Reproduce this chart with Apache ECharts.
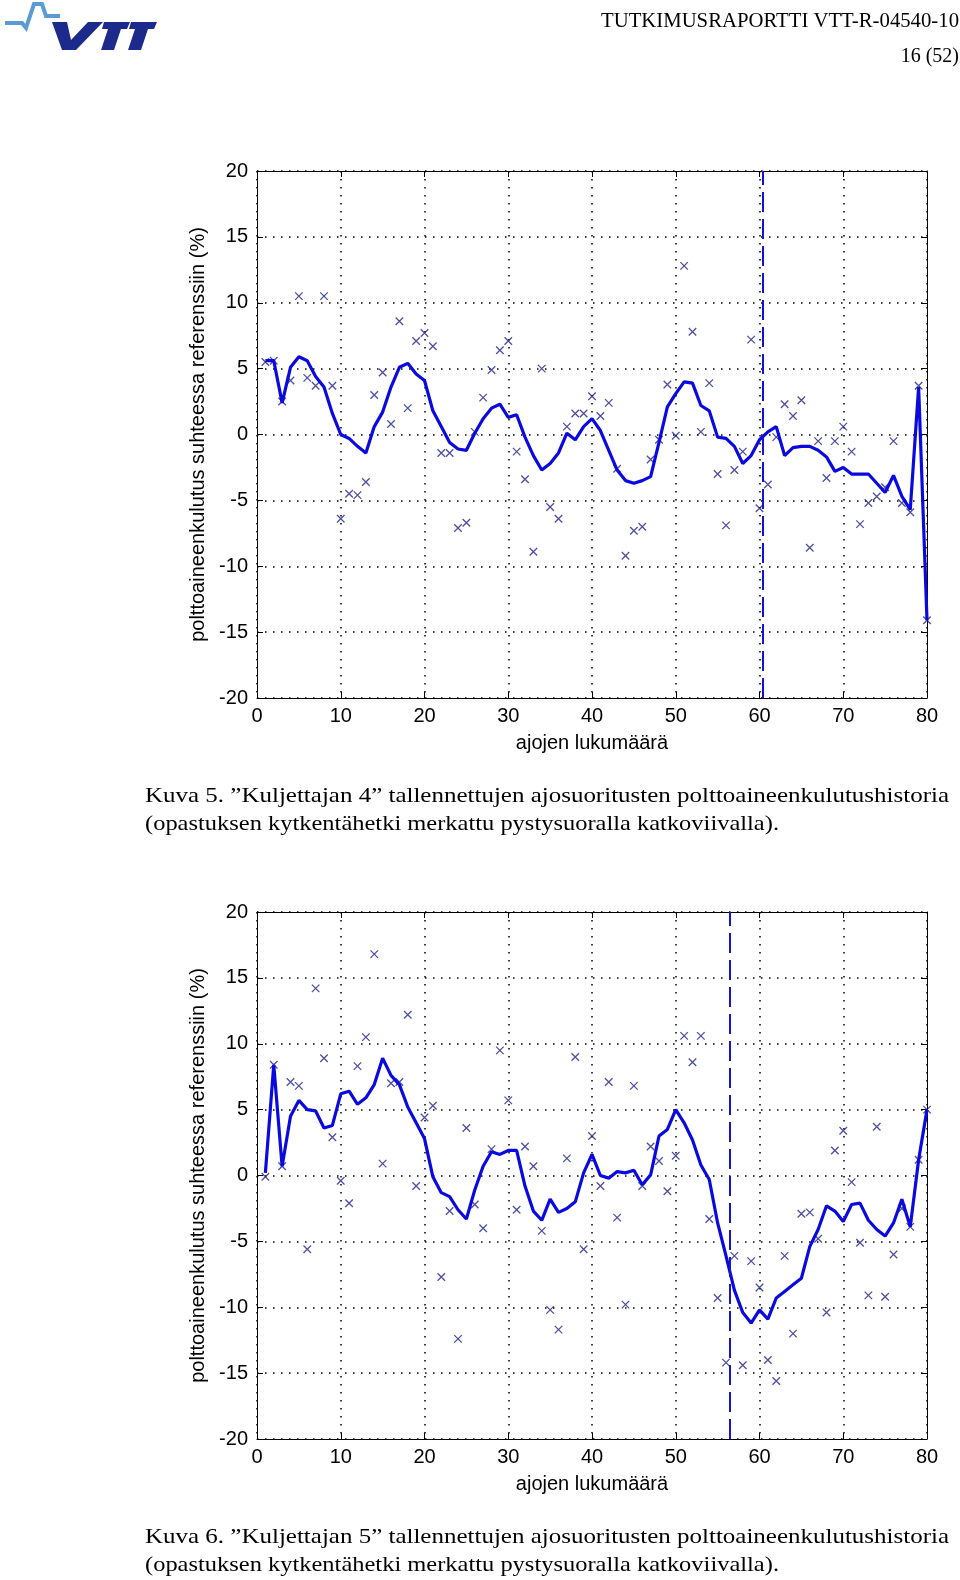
<!DOCTYPE html>
<html>
<head>
<meta charset="utf-8">
<script src="https://cdn.jsdelivr.net/npm/echarts@6/dist/echarts.min.js"></script>
<style>
html,body{margin:0;padding:0;background:#fff;}
#chart{width:960px;height:1580px;}
</style>
</head>
<body>
<div id="chart"></div>
<script>
// ---- data ----
const runs = [1,2,3,4,5,6,7,8,9,10,11,12,13,14,15,16,17,18,19,20,21,22,23,24,25,26,27,28,29,30,31,32,33,34,35,36,37,38,39,40,41,42,43,44,45,46,47,48,49,50,51,52,53,54,55,56,57,58,59,60,61,62,63,64,65,66,67,68,69,70,71,72,73,74,75,76,77,78,79,80];

// Kuljettaja 4: individual runs (x markers) and moving trend (line)
const driver4Runs = [5.5,5.6,2.5,4.1,10.5,4.3,3.7,10.5,3.7,-6.4,-4.5,-4.6,-3.6,3.0,4.7,0.8,8.6,2.0,7.1,7.7,6.7,-1.4,-1.4,-7.1,-6.7,0.2,2.8,4.9,6.4,7.1,-1.3,-3.4,-8.9,5.0,-5.5,-6.4,0.6,1.6,1.6,2.9,1.4,2.4,-2.6,-9.2,-7.3,-7.0,-1.9,-0.4,3.8,-0.1,12.8,7.8,0.2,3.9,-3.0,-6.9,-2.7,-1.3,7.2,-5.6,-3.8,-0.2,2.3,1.4,2.6,-8.6,-0.5,-3.3,-0.5,0.6,-1.3,-6.8,-5.2,-4.7,-4.0,-0.5,-5.2,-5.9,3.7,-14.1];
const driver4Trend = [5.6,5.6,2.4,5.1,5.9,5.6,4.4,3.6,1.6,0.0,-0.3,-0.9,-1.4,0.6,1.7,3.6,5.1,5.4,4.6,4.1,1.8,0.6,-0.6,-1.1,-1.2,0.1,1.2,2.0,2.3,1.3,1.5,-0.2,-1.6,-2.7,-2.2,-1.4,0.1,-0.4,0.6,1.2,0.3,-1.2,-2.7,-3.5,-3.7,-3.5,-3.2,-0.6,2.1,3.1,4.0,3.9,2.2,1.8,-0.2,-0.3,-0.9,-2.2,-1.6,-0.4,0.2,0.6,-1.6,-1.0,-0.9,-0.9,-1.2,-1.7,-2.8,-2.5,-3.0,-3.0,-3.0,-3.7,-4.4,-3.1,-4.7,-5.7,3.6,-14.1];
const driver4Switch = 60.4;

// Kuljettaja 5
const driver5Runs = [-0.1,8.4,0.7,7.1,6.8,-5.6,14.2,8.9,2.9,-0.4,-2.1,8.3,10.5,16.8,0.9,7.0,7.1,12.2,-0.8,4.4,5.3,-7.7,-2.7,-12.4,3.6,-2.2,-4.0,2.0,9.5,5.7,-2.6,2.2,0.7,-4.2,-10.2,-11.7,1.3,9.0,-5.6,3.0,-0.8,7.1,-3.2,-9.8,6.8,-0.8,2.2,1.1,-1.2,1.5,10.6,8.6,10.6,-3.3,-9.3,-14.2,-6.1,-14.4,-6.5,-8.5,-14.0,-15.6,-6.1,-12.0,-2.9,-2.8,-4.8,-10.4,1.9,3.4,-0.5,-5.1,-9.1,3.7,-9.2,-6.0,-2.5,-3.9,1.2,5.0];
const driver5Trend = [0.2,8.4,0.7,4.5,5.7,5.0,4.9,3.6,3.8,6.2,6.4,5.4,5.9,6.9,8.9,7.6,6.9,5.2,4.0,2.8,-0.1,-1.3,-1.6,-2.6,-3.3,-1.1,0.7,1.8,1.6,1.9,1.9,-0.8,-2.7,-3.4,-1.8,-2.8,-2.5,-2.0,0.2,1.6,0.0,-0.2,0.3,0.2,0.4,-0.7,0.05,3.0,3.5,5.0,4.0,2.7,0.8,-0.3,-3.6,-6.1,-8.7,-10.4,-11.2,-10.2,-10.9,-9.3,-8.8,-8.3,-7.8,-5.4,-4.1,-2.3,-2.7,-3.5,-2.2,-2.1,-3.4,-4.1,-4.6,-3.6,-1.8,-3.9,1.2,5.0];
const driver5Switch = 56.5;

// axes
const xMin = 0, xMax = 80, xStep = 10;
const yMin = -20, yMax = 20, yStep = 5;
const xTitle = 'ajojen lukumäärä';
const yTitle = 'polttoaineenkulutus suhteessa referenssiin (%)';

const caption5 = ['Kuva 5. ”Kuljettajan 4” tallennettujen ajosuoritusten polttoaineenkulutushistoria',
                  '(opastuksen kytkentähetki merkattu pystysuoralla katkoviivalla).'];
const caption6 = ['Kuva 6. ”Kuljettajan 5” tallennettujen ajosuoritusten polttoaineenkulutushistoria',
                  '(opastuksen kytkentähetki merkattu pystysuoralla katkoviivalla).'];
const headerTitle = 'TUTKIMUSRAPORTTI VTT-R-04540-10';
const headerPage = '16 (52)';

// ---- styles ----
const AX_FONT = '"Liberation Sans Narrow","Liberation Sans",Arial,sans-serif';
const SERIF = '"Liberation Serif","Times New Roman",serif';
const LINE_COLOR = '#0a0ae0';
const MARK_COLOR = '#20208c';
const GRID_DOT = {color: '#000', width: 1.5, type: [1.5, 6.5]};

const grids = [
  {left: 257, top: 171, width: 670, height: 527},
  {left: 257, top: 912, width: 670, height: 527}
];

const chart = echarts.init(document.getElementById('chart'), null, {renderer: 'canvas'});

function xAxes(gi) {
  const base = {
    type: 'value', gridIndex: gi, min: xMin, max: xMax, interval: xStep,
    axisLine: {show: true, onZero: false, lineStyle: {color: '#000', width: 1}},
    axisTick: {show: true, inside: true, length: 6, lineStyle: {color: '#000'}}
  };
  return [
    Object.assign({}, base, {
      position: 'bottom', name: xTitle, nameLocation: 'middle', nameGap: 35,
      nameTextStyle: {fontFamily: AX_FONT, fontSize: 20, color: '#000'},
      axisLabel: {fontFamily: AX_FONT, fontSize: 20, color: '#000', margin: 8},
      splitLine: {show: true, lineStyle: GRID_DOT}
    }),
    Object.assign({}, base, {position: 'top', axisLabel: {show: false}, splitLine: {show: false}})
  ];
}
function yAxes(gi) {
  const base = {
    type: 'value', gridIndex: gi, min: yMin, max: yMax, interval: yStep,
    axisLine: {show: true, onZero: false, lineStyle: {color: '#000', width: 1}},
    axisTick: {show: true, inside: true, length: 6, lineStyle: {color: '#000'}}
  };
  return [
    Object.assign({}, base, {
      position: 'left', name: yTitle, nameLocation: 'middle', nameGap: 47,
      nameTextStyle: {fontFamily: AX_FONT, fontSize: 20, color: '#000'},
      axisLabel: {fontFamily: AX_FONT, fontSize: 20, color: '#000', margin: 9},
      splitLine: {show: true, lineStyle: GRID_DOT}
    }),
    Object.assign({}, base, {position: 'right', axisLabel: {show: false}, splitLine: {show: false}})
  ];
}

function seriesFor(gi, pts, trend, sw) {
  const xi = gi * 2, yi = gi * 2;
  return [
    {
      type: 'scatter', xAxisIndex: xi, yAxisIndex: yi,
      data: runs.map((r, i) => [r, pts[i]]),
      symbol: 'path://M0,0L10,10M10,0L0,10', symbolSize: 7.5,
      itemStyle: {color: 'transparent', borderColor: MARK_COLOR, borderWidth: 1.3},
      silent: true, z: 3
    },
    {
      type: 'line', xAxisIndex: xi, yAxisIndex: yi,
      data: runs.map((r, i) => [r, trend[i]]),
      showSymbol: false, symbol: 'none',
      lineStyle: {color: LINE_COLOR, width: 3.2},
      silent: true, z: 4,
      markLine: {
        silent: true, symbol: ['none', 'none'], label: {show: false},
        lineStyle: {color: '#1414d2', width: 2, type: [20, 7]},
        data: [{xAxis: sw}]
      }
    }
  ];
}

// caption text helper, scaled horizontally to match justified width
const mctx = document.createElement('canvas').getContext('2d');
function capText(text, x, y, width, size) {
  const font = size + 'px ' + SERIF;
  mctx.font = font;
  const w = mctx.measureText(text).width;
  return {
    type: 'text', x: x, y: y, scaleX: width / w, originX: 0, originY: 0,
    style: {text: text, font: font, fill: '#000', textAlign: 'left', textVerticalAlign: 'middle'}
  };
}

const graphic = [
  // VTT logo
  {type: 'polyline', shape: {points: [[5,23],[22,23],[26,28],[34,4],[42,4],[46,16],[60,16]]},
   style: {stroke: '#5b9bd5', lineWidth: 4, fill: null, lineJoin: 'miter'}},
  {type: 'polygon', shape: {points: [[52,22],[67,22],[71,40],[88,22],[103,22],[76,50],[62,50]]}, style: {fill: '#1c2a8c'}},
  {type: 'polygon', shape: {points: [[104,22],[130,22],[127,29],[121,29],[114,50],[101,50],[108,29],[102,29]]}, style: {fill: '#1c2a8c'}},
  {type: 'polygon', shape: {points: [[131,22],[157,22],[154,29],[148,29],[141,50],[128,50],[135,29],[129,29]]}, style: {fill: '#1c2a8c'}},
  // header text
  capTextRight(headerTitle, 959, 22, 358, 20),
  {type: 'text', x: 959, y: 57, style: {text: headerPage, font: '20px ' + SERIF, fill: '#000', textAlign: 'right', textVerticalAlign: 'middle'}},
  // captions
  capText(caption5[0], 145, 796, 804, 21),
  capText(caption5[1], 145, 824, 634, 21),
  capText(caption6[0], 145, 1537, 804, 21),
  capText(caption6[1], 145, 1565, 634, 21)
];
function capTextRight(text, xr, y, width, size) {
  const el = capText(text, xr - width, y, width, size);
  return el;
}

const option = {
  animation: false,
  backgroundColor: '#fff',
  grid: grids.map(g => Object.assign({containLabel: false}, g)),
  xAxis: xAxes(0).concat(xAxes(1)),
  yAxis: yAxes(0).concat(yAxes(1)),
  series: seriesFor(0, driver4Runs, driver4Trend, driver4Switch)
    .concat(seriesFor(1, driver5Runs, driver5Trend, driver5Switch)),
  graphic: graphic
};
chart.setOption(option);
</script>
</body>
</html>
